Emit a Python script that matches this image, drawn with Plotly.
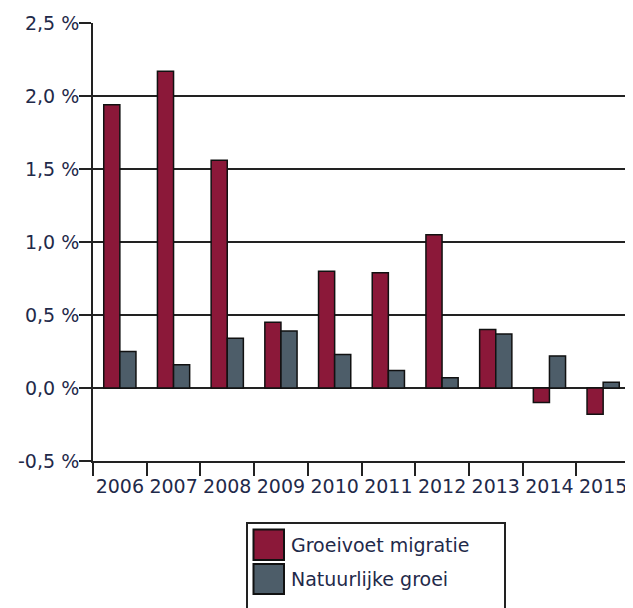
import plotly.graph_objects as go

years = ["2006", "2007", "2008", "2009", "2010", "2011", "2012", "2013", "2014", "2015"]
migratie = [1.94, 2.17, 1.56, 0.45, 0.80, 0.79, 1.05, 0.40, -0.10, -0.18]
natuurlijk = [0.25, 0.16, 0.34, 0.39, 0.23, 0.12, 0.07, 0.37, 0.22, 0.04]
series_names = ["Groeivoet migratie", "Natuurlijke groei"]
colors = ["#8B1839", "#4D5D69"]
y_tickvals = [-0.5, 0, 0.5, 1.0, 1.5, 2.0, 2.5]
y_ticktext = ["-0,5 %", "0,0 %", "0,5 %", "1,0 %", "1,5 %", "2,0 %", "2,5 %"]

FONT = "DejaVu Sans"
TXT = "#1F2A4A"

fig = go.Figure()
for name, vals, col in zip(series_names, [migratie, natuurlijk], colors):
    fig.add_trace(go.Bar(
        x=years, y=vals, name=name,
        marker=dict(color=col, line=dict(color="#111111", width=1.5)),
        showlegend=False,
    ))

# page body has an 8px margin: figure drawn at (8, 8) in the window
OFF = 8
W, H = 633 - OFF, 608 - OFF
L, R, T = 93 - OFF, 3, 23 - OFF
ph = 438
B = H - T - ph
pw = W - L - R

def px(x):
    return (x - OFF - L) / pw

def py(y):
    return (T + ph - (y - OFF)) / ph

shapes = [
    dict(type="rect", xref="paper", yref="paper",
         x0=px(247), x1=px(505), y0=py(523), y1=py(700),
         line=dict(color="#222222", width=2), fillcolor="white"),
]
annotations = []
sw_y = [(529.5, 560), (564, 594)]
for (y0, y1), col, name in zip(sw_y, colors, series_names):
    shapes.append(dict(type="rect", xref="paper", yref="paper",
                       x0=px(253.5), x1=px(284), y0=py(y0), y1=py(y1),
                       line=dict(color="#111111", width=2), fillcolor=col))
    annotations.append(dict(xref="paper", yref="paper", x=px(289), y=py((y0 + y1) / 2),
                            text=name, showarrow=False, xanchor="left", yanchor="middle",
                            font=dict(family=FONT, size=19, color=TXT)))

fig.update_layout(
    width=W, height=H,
    margin=dict(l=L, r=R, t=T, b=B, pad=0, autoexpand=False),
    paper_bgcolor="white", plot_bgcolor="white",
    barmode="group", bargap=0.4, bargroupgap=0,
    font=dict(family=FONT, size=19, color=TXT),
    shapes=shapes, annotations=annotations,
)
fig.update_xaxes(
    type="category", tickson="boundaries", ticks="outside", ticklen=13,
    tickwidth=2, tickcolor="#222222", tickangle=0, automargin=False,
    ticklabelstandoff=7,
    showline=True, linecolor="#222222", linewidth=2,
    showgrid=False, tickfont=dict(family=FONT, size=19, color=TXT),
)
fig.update_yaxes(
    range=[-0.5, 2.5], tickmode="array", tickvals=y_tickvals, ticktext=y_ticktext,
    ticks="outside", ticklen=12, tickwidth=2, tickcolor="#222222", automargin=False,
    ticklabelstandoff=-4,
    showline=True, linecolor="#222222", linewidth=2,
    showgrid=True, gridcolor="#222222", gridwidth=2,
    zeroline=True, zerolinecolor="#222222", zerolinewidth=2,
    tickfont=dict(family=FONT, size=19, color=TXT),
)

fig.write_html("out.html")
